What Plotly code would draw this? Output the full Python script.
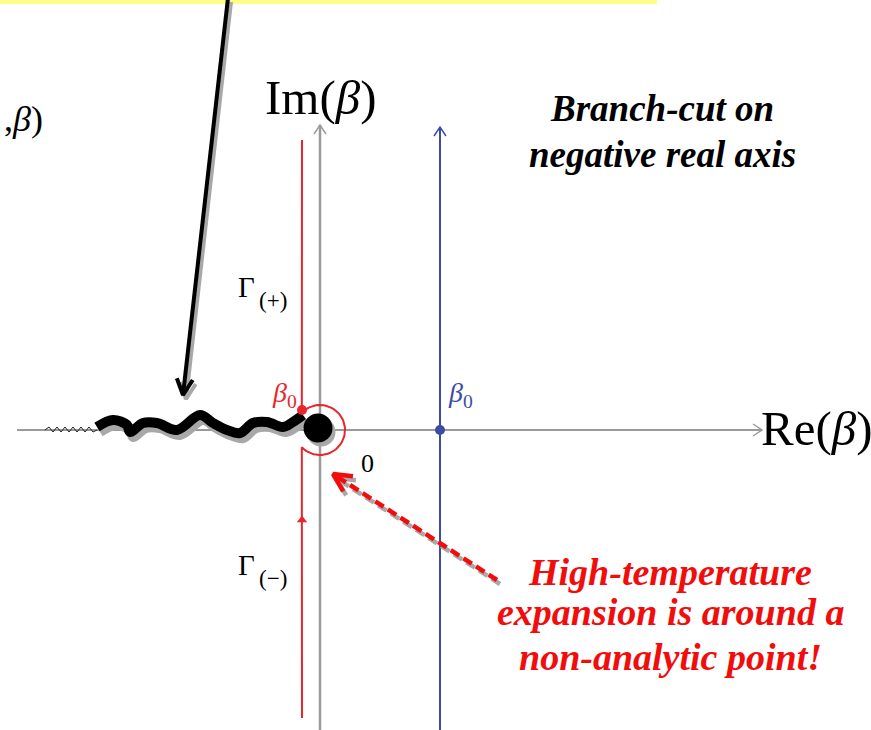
import numpy as np
import plotly.graph_objects as go

# ---- data (coordinates in the diagram's own plane: origin = axes crossing) ----
re_axis_x = [-303, 442]
im_axis_y = [-300, 305]
blue_line_x = 120
blue_line_y = [-300, 303]
red_line_x = -18
red_top_y = [290, 17]
red_bottom_y = [-17, -288]
contour_radius = 25
red_arrow_pt = (-18, -90)
red_dot = (-18, 20)
blue_dot = (120, 0)
big_dot = (-2, 2)

wave_x = [-223, -207, -193, -190, -177, -163, -143, -120, -107, -93, -80, -67, -53, -37, -27, -17]
wave_y = [3, 10, 5, -2, 7, 7, 0, 15, 7, 0, -3, 7, 8, 3, 8, 15]

zig_x = [-275, -271, -267, -263, -259, -255, -251, -247, -243, -239, -235, -231, -227, -223]
zig_y = [0, 3, -2, 3, -2, 3, -2, 3, -2, 3, -2, 3, -2, 0]

black_arrow_start = (-92, 432)
black_arrow_tip = (-137, 35)
red_arrow_start = (177, -150)
red_arrow_tip = (13, -44)

yellow_band_x = [-320, 337]
yellow_band_y = [426, 432]

GRAY = "#9a9a9a"
BLUE = "#3a4ca6"
RED = "#e8262b"
BRIGHT_RED = "#f20d0d"
SHADOW = "#a8a8a8"

fig = go.Figure()


def line(xs, ys, color, width, dash=None, shape="linear"):
    fig.add_trace(go.Scatter(x=list(xs), y=list(ys), mode="lines",
                             line=dict(color=color, width=width, dash=dash, shape=shape),
                             hoverinfo="skip", showlegend=False))


def head(tip, start, length, half, color, width):
    tx, ty = tip
    dx, dy = tx - start[0], ty - start[1]
    n = np.hypot(dx, dy)
    ux, uy = dx / n, dy / n
    px, py = -uy, ux
    bx, by = tx - ux * length, ty - uy * length
    line([bx + px * half, tx, bx - px * half], [by + py * half, ty, by - py * half], color, width)


# yellow band at top
fig.add_shape(type="rect", x0=yellow_band_x[0], x1=yellow_band_x[1], y0=yellow_band_y[0], y1=yellow_band_y[1],
              xref="x", yref="y", fillcolor="#ffff88", line=dict(width=0), layer="below")

# axes
line(re_axis_x, [0, 0], GRAY, 2)
head((re_axis_x[1], 0), (re_axis_x[0], 0), 9, 6, GRAY, 1.5)
line([0, 0], im_axis_y, GRAY, 2.5)
head((0, im_axis_y[1]), (0, im_axis_y[0]), 9, 6, GRAY, 1.5)

# blue contour
line([blue_line_x, blue_line_x], blue_line_y, BLUE, 2)
head((blue_line_x, blue_line_y[1]), (blue_line_x, blue_line_y[0]), 9, 6, BLUE, 1.5)

# red contour with a clockwise detour round the origin
a_start = np.arctan2(red_top_y[1], red_line_x)
a_end = np.arctan2(red_bottom_y[0], red_line_x)
ang = np.linspace(a_start, a_end - 2 * np.pi if a_end > a_start else a_end, 60)
arc_x = contour_radius * np.cos(ang)
arc_y = contour_radius * np.sin(ang)
line([red_line_x] + list(arc_x) + [red_line_x],
     [red_top_y[0]] + list(arc_y) + [red_bottom_y[1]], RED, 2)
fig.add_trace(go.Scatter(x=[red_arrow_pt[0]], y=[red_arrow_pt[1]], mode="markers",
                         marker=dict(symbol="triangle-up", size=9, color=RED),
                         hoverinfo="skip", showlegend=False))

# zigzag + wavy branch cut
line(zig_x, zig_y, "#222222", 1)
line([v + 3 for v in wave_x], [v - 5 for v in wave_y], SHADOW, 10, shape="spline")
line(wave_x, wave_y, "black", 10, shape="spline")

# dots
fig.add_trace(go.Scatter(x=[big_dot[0] + 3], y=[big_dot[1] - 4], mode="markers",
                         marker=dict(size=29, color=SHADOW), hoverinfo="skip", showlegend=False))
fig.add_trace(go.Scatter(x=[big_dot[0]], y=[big_dot[1]], mode="markers",
                         marker=dict(size=29, color="black"), hoverinfo="skip", showlegend=False))
fig.add_trace(go.Scatter(x=[red_dot[0]], y=[red_dot[1]], mode="markers",
                         marker=dict(size=10, color=RED), hoverinfo="skip", showlegend=False))
fig.add_trace(go.Scatter(x=[blue_dot[0]], y=[blue_dot[1]], mode="markers",
                         marker=dict(size=10, color=BLUE), hoverinfo="skip", showlegend=False))

# black pointer arrow (with shadow)
sx, sy = black_arrow_start
tx, ty = black_arrow_tip
line([sx + 3, tx + 3], [sy - 4, ty - 4], SHADOW, 4)
head((tx + 3, ty - 4), (sx + 3, sy - 4), 16, 8, SHADOW, 4)
line([sx, tx], [sy, ty], "black", 4)
head((tx, ty), (sx, sy), 16, 8, "black", 4)

# red dashed arrow (with shadow)
sx, sy = red_arrow_start
tx, ty = red_arrow_tip
line([sx + 3, tx + 3], [sy - 4, ty - 4], SHADOW, 4.5, dash="10px,5px")
head((tx + 3, ty - 4), (sx + 3, sy - 4), 18, 9, SHADOW, 4.5)
line([sx, tx], [sy, ty], BRIGHT_RED, 4.5, dash="10px,5px")
head((tx, ty), (sx, sy), 18, 9, BRIGHT_RED, 4.5)

SERIF = "Liberation Serif"


def label(x, y, text, size, color="black", family=SERIF):
    fig.add_annotation(x=x, y=y, xref="x", yref="y", text=text, showarrow=False,
                       font=dict(family=family, size=size, color=color),
                       xanchor="center", yanchor="middle")


label(0, 333, "Im(<i>β</i>)", 49)
label(496, 2, "Re(<i>β</i>)", 49)
label(-297, 311, ",<i>β</i>)", 36)
label(-74, 143, "Γ", 29)
label(-47, 130, "(+)", 23)
label(-74, -135, "Γ", 29)
label(-47, -148, "(−)", 23)
label(-36, 36, "<i>β</i><sub>0</sub>", 28, RED)
label(140, 36, "<i>β</i><sub>0</sub>", 28, BLUE)
label(47, -33, "0", 26)

label(342, 322, "<b><i>Branch-cut on</i></b>", 37)
label(342, 276, "<b><i>negative real axis</i></b>", 37)
label(350, -142, "<b><i>High-temperature</i></b>", 38, BRIGHT_RED)
label(350, -182, "<b><i>expansion is around a</i></b>", 38, BRIGHT_RED)
label(350, -227, "<b><i>non-analytic point!</i></b>", 38, BRIGHT_RED)

fig.update_layout(width=871, height=730, margin=dict(l=0, r=0, t=0, b=0),
                  paper_bgcolor="white", plot_bgcolor="white",
                  xaxis=dict(range=[-320, 551], visible=False, fixedrange=True),
                  yaxis=dict(range=[-300, 430], visible=False, fixedrange=True))

fig.write_html("out.html", config={"displayModeBar": False},
               post_script="document.body.style.margin='0';")
